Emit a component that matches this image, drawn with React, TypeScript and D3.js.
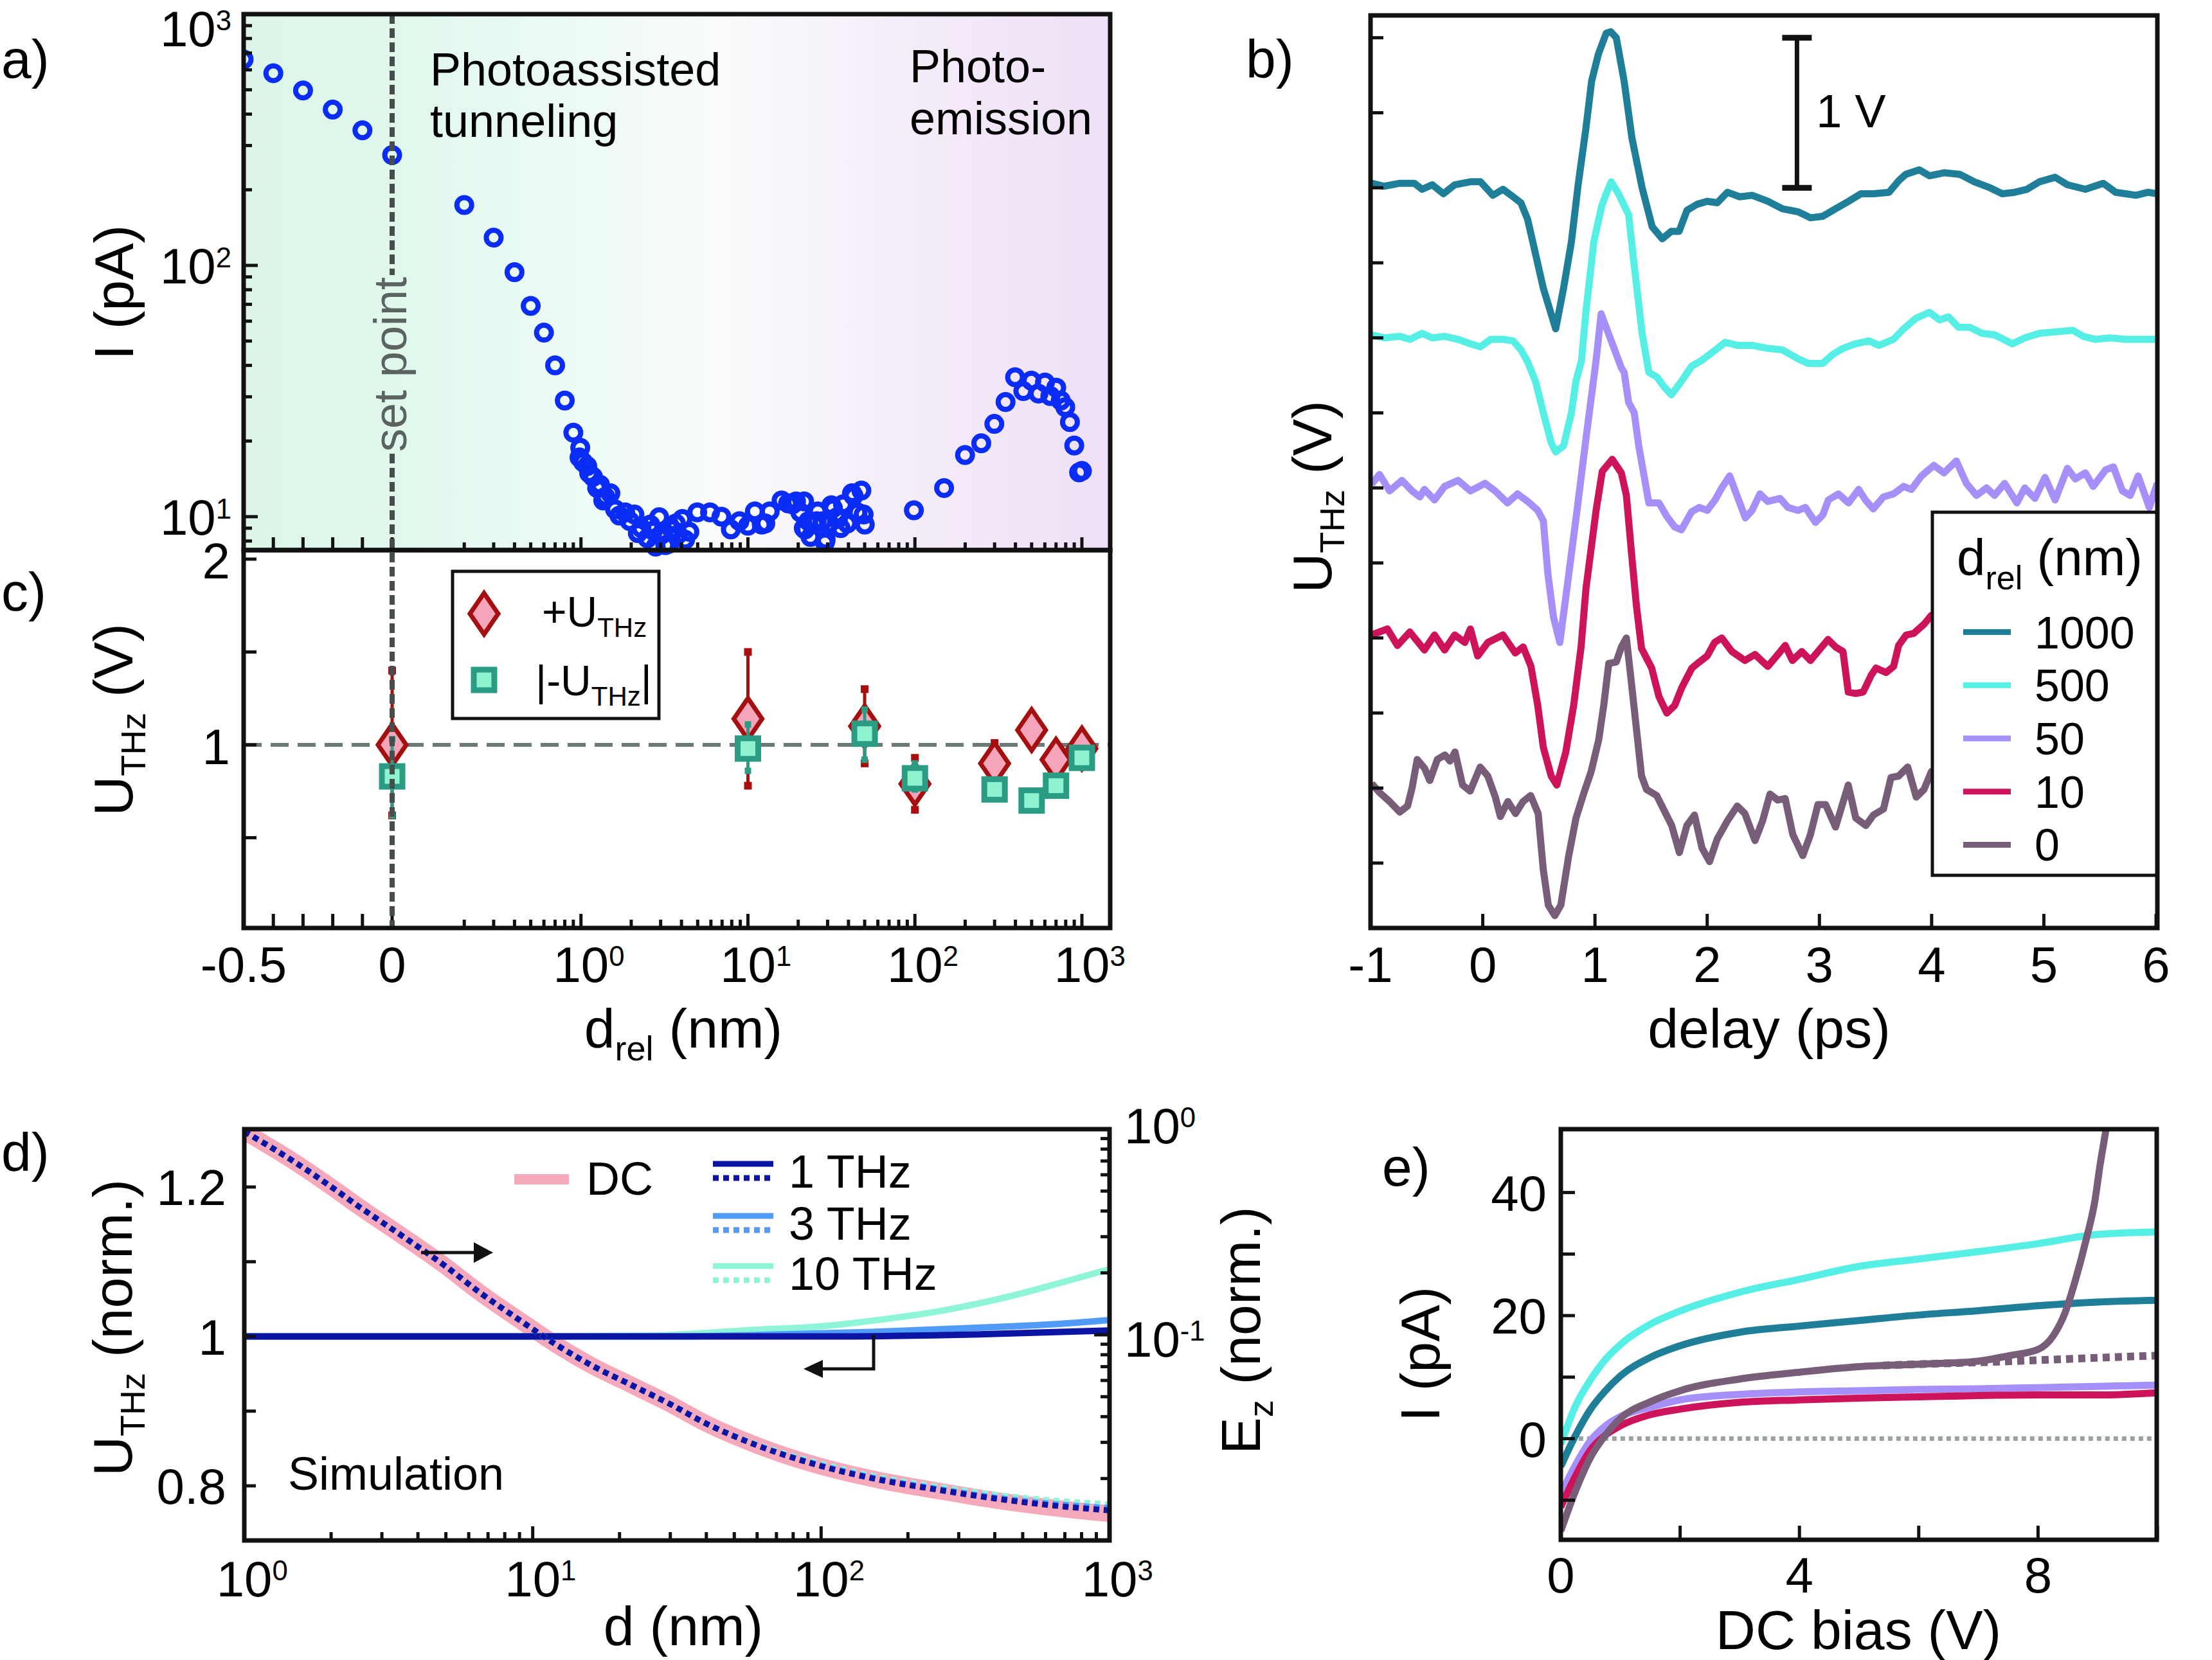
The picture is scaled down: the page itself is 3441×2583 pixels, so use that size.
import * as d3 from "d3";

const FONT = "'Liberation Sans', Arial, Helvetica, sans-serif";

// a) photocurrent vs relative tip distance  [d_rel (nm), I (pA)]
const currentA: [number, number][] = [
  [-0.5, 660], [-0.4, 582], [-0.3, 497], [-0.2, 417], [-0.1, 345], [0, 275],
  [0.2, 174], [0.3, 129], [0.4, 94], [0.5, 69], [0.6, 54], [0.7, 40], [0.8, 29], [0.9, 21.6],
  [0.99, 18.8], [0.98, 17.2], [1.03, 16.5], [1.09, 15.9], [1.12, 14.9], [1.18, 14.4], [1.25, 13.0],
  [1.3, 13.4], [1.36, 11.6], [1.4, 12.0], [1.5, 12.4], [1.6, 10.7], [1.7, 10.1], [1.84, 10.4],
  [1.96, 9.6], [2.09, 10.2], [2.19, 8.6], [2.3, 9.0], [2.5, 8.2], [2.6, 9.3], [2.7, 8.8], [2.8, 7.6],
  [2.94, 9.95], [3.05, 8.5], [3.2, 7.7], [3.36, 7.8], [3.5, 8.9], [3.7, 9.4], [3.81, 8.5], [4.05, 9.8],
  [4.2, 8.1], [4.46, 8.7], [4.97, 10.4], [5.93, 10.4], [6.94, 10.0], [7.9, 8.9], [8.9, 9.6], [10.0, 9.2],
  [11.0, 10.5], [12.1, 9.3], [12.7, 9.4], [13.5, 10.5], [15.9, 11.6], [17.4, 11.3], [18.5, 11.2],
  [19.4, 11.5], [20.6, 10.4], [21.6, 9.0], [21.7, 11.5], [22.0, 8.9], [23.0, 9.6], [23.7, 8.3],
  [25.0, 9.4], [25.8, 9.6], [26.2, 10.5], [27.9, 9.6], [28.9, 7.9], [29.2, 8.1], [30.7, 9.4],
  [31.6, 11.1], [32.3, 10.8], [34.2, 9.95], [34.6, 9.8], [35.9, 9.0], [37.1, 11.2], [39.4, 9.4],
  [42.0, 12.4], [42.9, 12.1], [45.3, 10.4], [47.8, 12.7], [49.3, 10.2], [50.1, 9.3],
  [98.6, 10.6], [149.5, 13.0], [199.6, 17.6], [249.6, 19.6], [299, 23.4], [349, 28.6], [398, 35.9],
  [446, 31.6], [498, 34.8], [549, 30.9], [601, 34.2], [647, 30.2], [702, 32.6], [747, 29.0],
  [795, 27.3], [848, 23.8], [900, 19.2], [962, 15.0], [1000, 15.2],
];

// c) THz voltage amplitudes
const distC = [0, 10, 50, 100, 300, 500, 700, 1000];
const uPos = [1.0, 1.14, 1.1, 0.79, 0.9, 1.08, 0.92, 0.98];
const uPosLo = [0.62, 0.78, 0.9, 0.65, 0.82, 1.0, 0.86, 0.9];
const uPosHi = [1.4, 1.5, 1.3, 0.93, 1.01, 1.16, 0.98, 1.06];
const uNeg = [0.83, 0.98, 1.06, 0.82, 0.76, 0.7, 0.78, 0.93];
const uNegLo = [0.62, 0.86, 0.92, 0.76, 0.73, 0.67, 0.75, 0.9];
const uNegHi = [1.03, 1.11, 1.19, 0.9, 0.79, 0.73, 0.81, 0.96];

// b) THz waveforms [delay (ps), U (V)], plotted with vertical offsets
const wave1000: [number, number][] = [
  [-0.99, 0.03], [-0.88, 0.01], [-0.74, 0.03], [-0.61, 0.03], [-0.54, -0.01], [-0.45, 0.02], [-0.35, -0.04],
  [-0.25, 0.02], [-0.11, 0.04], [-0.02, 0.04], [0.09, -0.05], [0.18, -0.01], [0.27, -0.06], [0.34, -0.1],
  [0.4, -0.21], [0.47, -0.44], [0.54, -0.67], [0.65, -0.94], [0.72, -0.67], [0.79, -0.36], [0.85, 0.02],
  [0.92, 0.4], [0.97, 0.71], [1.03, 0.89], [1.1, 1.03], [1.14, 1.04], [1.19, 1.0], [1.26, 0.71], [1.33, 0.33],
  [1.42, 0.0], [1.51, -0.26], [1.6, -0.34], [1.68, -0.29], [1.75, -0.29], [1.82, -0.15], [1.91, -0.11],
  [2.0, -0.09], [2.09, -0.1], [2.18, -0.03], [2.29, -0.06], [2.4, -0.05], [2.54, -0.09], [2.67, -0.14],
  [2.81, -0.16], [2.92, -0.2], [3.03, -0.19], [3.12, -0.15], [3.26, -0.09], [3.37, -0.04], [3.48, -0.04],
  [3.62, -0.03], [3.71, 0.05], [3.77, 0.09], [3.89, 0.12], [3.98, 0.08], [4.11, 0.1], [4.25, 0.09],
  [4.38, 0.04], [4.52, 0.0], [4.63, -0.04], [4.74, -0.03], [4.85, -0.01], [4.96, 0.04], [5.1, 0.07],
  [5.21, 0.02], [5.37, -0.01], [5.53, 0.03], [5.64, -0.03], [5.73, -0.04], [5.82, -0.05], [5.93, -0.03],
  [6.01, -0.04],
];
const wave500: [number, number][] = [
  [-0.99, 0.02], [-0.88, 0.0], [-0.74, 0.01], [-0.65, -0.01], [-0.54, 0.03], [-0.45, 0.0], [-0.34, 0.01],
  [-0.22, -0.01], [-0.11, -0.04], [-0.02, -0.06], [0.07, -0.01], [0.18, -0.01], [0.27, -0.02], [0.34, -0.08],
  [0.4, -0.16], [0.47, -0.29], [0.54, -0.5], [0.61, -0.7], [0.65, -0.76], [0.72, -0.72], [0.79, -0.5],
  [0.83, -0.29], [0.88, -0.15], [0.92, 0.18], [0.99, 0.64], [1.06, 0.88], [1.1, 0.96], [1.145, 1.04],
  [1.21, 0.96], [1.3, 0.82], [1.35, 0.48], [1.42, 0.03], [1.48, -0.23], [1.55, -0.26], [1.62, -0.33],
  [1.68, -0.38], [1.77, -0.29], [1.86, -0.19], [1.95, -0.15], [2.04, -0.1], [2.16, -0.03], [2.27, -0.05],
  [2.4, -0.05], [2.54, -0.07], [2.67, -0.08], [2.81, -0.14], [2.9, -0.17], [3.03, -0.17], [3.12, -0.11],
  [3.21, -0.07], [3.32, -0.04], [3.44, -0.02], [3.53, -0.05], [3.66, -0.01], [3.75, 0.06], [3.86, 0.13],
  [3.98, 0.17], [4.07, 0.12], [4.15, 0.14], [4.24, 0.07], [4.34, 0.07], [4.45, 0.03], [4.56, 0.02],
  [4.72, -0.04], [4.83, 0.0], [4.96, 0.03], [5.1, 0.04], [5.26, 0.05], [5.35, 0.01], [5.46, -0.01],
  [5.59, 0.0], [5.73, -0.01], [5.86, -0.01], [6.01, -0.01],
];
const wave50: [number, number][] = [
  [-0.99, 0.025], [-0.92, 0.09], [-0.83, -0.02], [-0.72, 0.05], [-0.63, -0.02], [-0.56, -0.06], [-0.52, -0.01],
  [-0.43, -0.08], [-0.34, 0.01], [-0.22, 0.05], [-0.11, -0.02], [0.02, 0.03], [0.11, -0.02], [0.22, -0.1],
  [0.31, -0.04], [0.4, -0.09], [0.49, -0.15], [0.54, -0.22], [0.58, -0.57], [0.63, -0.86], [0.687, -1.03],
  [0.764, -0.59], [0.84, -0.15], [0.92, 0.33], [1.01, 0.85], [1.055, 1.16], [1.17, 0.93], [1.235, 0.8],
  [1.26, 0.77], [1.3, 0.57], [1.35, 0.5], [1.39, 0.28], [1.44, 0.07], [1.48, -0.1], [1.57, -0.1],
  [1.64, -0.19], [1.71, -0.26], [1.77, -0.28], [1.86, -0.16], [1.93, -0.13], [2.0, -0.15], [2.07, -0.08],
  [2.13, 0.0], [2.2, 0.08], [2.27, -0.06], [2.34, -0.2], [2.4, -0.15], [2.47, -0.04], [2.54, -0.09],
  [2.65, -0.07], [2.72, -0.13], [2.81, -0.15], [2.875, -0.13], [2.965, -0.23], [3.03, -0.18], [3.08, -0.08],
  [3.17, -0.04], [3.26, -0.1], [3.35, -0.01], [3.41, -0.08], [3.48, -0.14], [3.57, -0.06], [3.66, -0.04],
  [3.75, 0.01], [3.82, -0.01], [3.91, 0.08], [4.02, 0.15], [4.11, 0.1], [4.22, 0.18], [4.31, 0.03],
  [4.4, -0.05], [4.49, 0.0], [4.56, -0.05], [4.65, 0.03], [4.76, -0.1], [4.83, 0.0], [4.92, -0.07],
  [5.01, 0.07], [5.1, -0.08], [5.21, 0.13], [5.28, 0.06], [5.37, 0.1], [5.44, 0.01], [5.55, 0.12],
  [5.62, 0.14], [5.7, -0.02], [5.77, -0.05], [5.84, 0.08], [5.94, -0.13], [6.01, 0.03],
];
const wave10: [number, number][] = [
  [-0.99, 0.02], [-0.85, 0.06], [-0.76, -0.05], [-0.65, 0.04], [-0.52, -0.08], [-0.43, 0.02], [-0.34, -0.08],
  [-0.25, 0.02], [-0.16, -0.03], [-0.11, 0.06], [-0.045, -0.12], [0.045, -0.03], [0.18, 0.02], [0.29, -0.1],
  [0.36, -0.06], [0.43, -0.19], [0.49, -0.45], [0.54, -0.73], [0.61, -0.92], [0.66, -0.98], [0.74, -0.76],
  [0.81, -0.45], [0.876, -0.06], [0.92, 0.33], [1.01, 0.85], [1.065, 1.11], [1.154, 1.19], [1.235, 1.1],
  [1.28, 0.95], [1.325, 0.57], [1.37, 0.21], [1.415, -0.07], [1.505, -0.2], [1.57, -0.39], [1.64, -0.5],
  [1.71, -0.45], [1.774, -0.33], [1.864, -0.2], [1.93, -0.16], [2.0, -0.12], [2.066, -0.03], [2.13, 0.0],
  [2.22, -0.09], [2.336, -0.15], [2.426, -0.11], [2.54, -0.19], [2.63, -0.11], [2.695, -0.05], [2.76, -0.15],
  [2.843, -0.09], [2.92, -0.15], [3.01, -0.07], [3.077, -0.01], [3.144, -0.06], [3.21, -0.09], [3.257, -0.36],
  [3.324, -0.37], [3.39, -0.36], [3.46, -0.25], [3.504, -0.2], [3.594, -0.23], [3.661, -0.19], [3.706, -0.05],
  [3.773, 0.02], [3.84, 0.03], [3.93, 0.09], [3.998, 0.15], [4.1, 0.19],
];
const wave0: [number, number][] = [
  [-0.99, 0.03], [-0.92, -0.03], [-0.83, -0.09], [-0.74, -0.16], [-0.67, -0.12], [-0.63, 0.0], [-0.584, 0.19],
  [-0.517, 0.13], [-0.472, 0.05], [-0.405, 0.19], [-0.337, 0.22], [-0.292, 0.18], [-0.247, 0.24], [-0.18, 0.02],
  [-0.112, -0.02], [-0.023, 0.14], [0.045, 0.08], [0.112, -0.06], [0.157, -0.19], [0.224, -0.09], [0.292, -0.17],
  [0.359, -0.09], [0.427, -0.05], [0.494, -0.17], [0.539, -0.54], [0.584, -0.78], [0.642, -0.85], [0.696, -0.78],
  [0.764, -0.46], [0.831, -0.2], [0.898, -0.04], [0.966, 0.11], [1.033, 0.32], [1.078, 0.55], [1.123, 0.83],
  [1.19, 0.84], [1.235, 0.94], [1.28, 1.0], [1.325, 0.7], [1.37, 0.39], [1.415, 0.08], [1.46, -0.01],
  [1.55, -0.05], [1.617, -0.15], [1.684, -0.25], [1.752, -0.43], [1.819, -0.25], [1.887, -0.18], [1.954, -0.4],
  [2.021, -0.49], [2.089, -0.34], [2.179, -0.22], [2.268, -0.12], [2.336, -0.17], [2.426, -0.35], [2.493, -0.22],
  [2.56, -0.04], [2.628, -0.08], [2.695, -0.07], [2.763, -0.31], [2.852, -0.45], [2.92, -0.31], [2.987, -0.11],
  [3.055, -0.11], [3.144, -0.26], [3.257, 0.02], [3.324, -0.2], [3.414, -0.25], [3.481, -0.18], [3.571, -0.14],
  [3.638, 0.07], [3.706, 0.08], [3.787, 0.14], [3.863, -0.06], [3.931, -0.01], [3.998, 0.11], [4.1, 0.12],
];
const waveOffsets = [5, 4, 3, 2, 1];
const waveLabels = ["1000", "500", "50", "10", "0"];
const waveColors = ["#1f7f98", "#55efe6", "#a68ff8", "#cd145a", "#775d78"];

// d) simulation
const dSim = [1, 1.5, 2, 2.5, 3.5, 5, 6.5, 9, 12, 16, 22, 30, 40, 60, 100, 160, 250, 400, 700, 1000];
const ezDC = [0.974, 0.69, 0.525, 0.42, 0.305, 0.215, 0.162, 0.118, 0.09, 0.071, 0.057, 0.046, 0.037, 0.029, 0.0229, 0.0196, 0.0175, 0.0157, 0.0142, 0.0135];
const ez1 = [0.974, 0.69, 0.525, 0.42, 0.305, 0.215, 0.162, 0.118, 0.09, 0.071, 0.057, 0.046, 0.037, 0.029, 0.023, 0.0197, 0.0177, 0.016, 0.0146, 0.014];
const ez3 = [0.974, 0.69, 0.525, 0.42, 0.305, 0.215, 0.162, 0.118, 0.09, 0.071, 0.057, 0.046, 0.037, 0.029, 0.0232, 0.0199, 0.0179, 0.0162, 0.0149, 0.0144];
const ez10 = [0.974, 0.69, 0.525, 0.42, 0.305, 0.215, 0.162, 0.118, 0.09, 0.071, 0.057, 0.046, 0.037, 0.0293, 0.0236, 0.0203, 0.0183, 0.0167, 0.0155, 0.015];
const dU10 = [1, 10, 25, 60, 100, 150, 250, 370, 500, 680, 1000];
const u10 = [1.0, 1.0, 1.001, 1.009, 1.0135, 1.021, 1.033, 1.046, 1.058, 1.072, 1.09];
const dU3 = [1, 30, 60, 150, 370, 680, 1000];
const u3 = [1.0, 1.0, 1.002, 1.006, 1.012, 1.017, 1.022];
const dU1 = [1, 100, 370, 1000];
const u1 = [1.0, 1.0, 1.003, 1.008];
const simColors = { dc: "#f6a9ba", f1: "#0b14a3", f3: "#4f9bf7", f10: "#8ef5d8" };

// e) I-V curves
const bias = [0, 0.25, 0.5, 0.75, 1, 1.5, 2, 3, 4, 5, 6, 7, 8, 9, 10];
const iv1000 = [-4.5, 0.6, 4.8, 7.8, 10.2, 13.2, 15.1, 17.3, 18.3, 19.2, 20.1, 20.8, 21.6, 22.2, 22.5];
const iv500 = [-0.9, 5.4, 9.6, 12.9, 15.3, 18.6, 20.75, 23.8, 25.9, 28, 29.2, 30.4, 31.7, 33.2, 33.6];
const iv50 = [-9.0, -4.2, -0.3, 2.1, 3.6, 5.1, 6.3, 7.2, 7.6, 7.8, 8.0, 8.1, 8.3, 8.5, 8.7];
const iv10 = [-11.1, -6.0, -1.8, 0.6, 2.1, 3.9, 4.8, 5.9, 6.3, 6.6, 6.8, 7.0, 7.1, 7.1, 7.45];
const bias0 = [0, 0.25, 0.5, 0.75, 1, 1.5, 2, 3, 4, 5, 6, 7, 7.52, 8.0, 8.26, 8.45, 8.63, 8.81, 8.95, 9.04, 9.14, 9.2];
const iv0 = [-15, -8.4, -3.0, 0.6, 3.3, 6.0, 7.8, 9.7, 10.8, 11.7, 12.1, 12.6, 13.5, 14.5, 16.8, 20.4, 25.9, 32.5, 38.5, 44.5, 50.3, 54];
const biasFit = [5.4, 6, 7, 8, 9, 10];
const ivFit = [11.9, 12.1, 12.4, 12.75, 13.15, 13.5];

const FT = 78; // tick labels
const FA = 86; // axis titles
const FL = 70; // legends

// "10" with a superscript whose top lines up with the digits
const Pow = ({ x, y, exp, anchor = "start", fs = FT }: any) => (
  <text x={x} y={y} fontSize={fs} textAnchor={anchor}>
    10<tspan fontSize={fs * 0.56} dy={-fs * 0.32}>{exp}</tspan>
  </text>
);

const isDecade = (v: number) => Math.abs(Math.log10(v) - Math.round(Math.log10(v))) < 1e-6;

export default function App() {
  // ---- a / c scales (broken x axis: linear up to 0, log above) ----
  const xLin = d3.scaleLinear().domain([-0.5, 0]).range([379, 610]);
  const xLog = d3.scaleLog().domain([0.1, 1000]).range([644, 1683]);
  const xAC = (d: number) => (d <= 0 ? xLin(d) : xLog(d));
  const yA = d3.scaleLog().domain([7.36, 1000]).range([856, 22]);
  const yC = d3.scaleLinear().domain([0, 2]).range([1448, 870]);
  const acTicks = [
    ...xLin.ticks(5).map((v) => ({ x: xLin(v), major: true })),
    ...xLog.ticks().filter((v) => v > 0.15).map((v) => ({ x: xLog(v), major: isDecade(v) })),
  ];

  // ---- b ----
  const xB = d3.scaleLinear().domain([-1, 6]).range([2132, 3354]);
  const yB = d3.scaleLinear().domain([0, 6]).range([1459.7, 58.7]);
  const waves = [wave1000, wave500, wave50, wave10, wave0];

  // ---- d ----
  const xD = d3.scaleLog().domain([1, 1000]).range([380, 1726]);
  const yDL = d3.scaleLinear().domain([0.8, 1.2]).range([2312, 1847]);
  const yDR = d3.scaleLog().domain([0.01, 1]).range([2397, 1757]);
  const lineR = (xs: number[], ys: number[]) =>
    d3.line<number>().x((_, i) => xD(xs[i])).y((v) => yDR(v)).curve(d3.curveMonotoneX)(ys) || "";
  const lineL = (xs: number[], ys: number[]) =>
    d3.line<number>().x((_, i) => xD(xs[i])).y((v) => yDL(v)).curve(d3.curveMonotoneX)(ys) || "";

  // ---- e ----
  const xE = d3.scaleLinear().domain([0, 10]).range([2428, 3356]);
  const yE = d3.scaleLinear().domain([0, 40]).range([2238.6, 1855.6]);
  const lineE = (xs: number[], ys: number[]) =>
    d3.line<number>().x((_, i) => xE(xs[i])).y((v) => yE(v)).curve(d3.curveMonotoneX)(ys) || "";

  const tick = "#111";

  return (
    <svg width={3441} height={2583} style={{ position: "absolute", left: 0, top: 0, background: "#fff" }} fontFamily={FONT}>
      <defs>
        <linearGradient id="bgA" x1="0" x2="1" y1="0" y2="0">
          <stop offset="0" stopColor="#dcf6e8" />
          <stop offset="0.2" stopColor="#e1f8ed" />
          <stop offset="0.4" stopColor="#eefbf6" />
          <stop offset="0.55" stopColor="#fafbfc" />
          <stop offset="0.75" stopColor="#f5edf9" />
          <stop offset="1" stopColor="#eee0f6" />
        </linearGradient>
        <clipPath id="clipA"><rect x={379} y={22} width={1348} height={848} /></clipPath>
        <clipPath id="clipB"><rect x={2132} y={24} width={1224} height={1420} /></clipPath>
        <clipPath id="clipD"><rect x={380} y={1757} width={1346} height={640} /></clipPath>
        <clipPath id="clipE"><rect x={2428} y={1757} width={927} height={639} /></clipPath>
      </defs>

      {/* ================= panel a ================= */}
      <rect x={379} y={22} width={1348} height={834} fill="url(#bgA)" />
      <g clipPath="url(#clipA)">
        {currentA.map(([d, i], k) => (
          <circle key={k} cx={xAC(d)} cy={yA(i)} r={11.5} fill="none" stroke="#0b2cf5" strokeWidth={8} />
        ))}
      </g>
      <text x={669} y={133} fontSize={72}>Photoassisted</text>
      <text x={669} y={213} fontSize={72}>tunneling</text>
      <text x={1415} y={128} fontSize={72}>Photo-</text>
      <text x={1415} y={209} fontSize={72}>emission</text>
      {yA.ticks().map((v) => (
        <line key={v} x1={379} x2={379 + (isDecade(v) ? 22 : 13)} y1={yA(v)} y2={yA(v)} stroke={tick} strokeWidth={5} />
      ))}
      {[1, 2, 3].map((e) => (
        <Pow key={e} x={360} y={Math.max(yA(10 ** e) + 28, 72)} exp={e} anchor="end" />
      ))}
      {acTicks.map((t, k) => (
        <line key={k} x1={t.x} x2={t.x} y1={856} y2={856 - (t.major ? 20 : 12)} stroke={tick} strokeWidth={5} />
      ))}
      <text transform="translate(207,455) rotate(-90)" fontSize={FA} textAnchor="middle">I (pA)</text>
      <text x={2} y={121} fontSize={84}>a)</text>

      {/* ================= panel c ================= */}
      <line x1={379} x2={1727} y1={yC(1)} y2={yC(1)} stroke="#6b7a78" strokeWidth={6} strokeDasharray="28 14" />
      {distC.map((d, k) => (
        <g key={"pe" + k} stroke="#a80e0e" strokeWidth={5}>
          <line x1={xAC(d)} x2={xAC(d)} y1={yC(uPosLo[k])} y2={yC(uPosHi[k])} />
          <rect x={xAC(d) - 6} y={yC(uPosHi[k]) - 6} width={12} height={12} fill="#a80e0e" stroke="none" />
          <rect x={xAC(d) - 6} y={yC(uPosLo[k]) - 6} width={12} height={12} fill="#a80e0e" stroke="none" />
        </g>
      ))}
      {distC.map((d, k) => (
        <path key={"pd" + k} transform={`translate(${xAC(d)},${yC(uPos[k])})`} d="M0,-32L22,0L0,32L-22,0Z"
          fill="#f5a4b9" stroke="#a3100f" strokeWidth={7} strokeLinejoin="miter" />
      ))}
      {distC.map((d, k) => (
        <g key={"ne" + k} stroke="#2a9c84" strokeWidth={5}>
          <line x1={xAC(d)} x2={xAC(d)} y1={yC(uNegLo[k])} y2={yC(uNegHi[k])} />
          <rect x={xAC(d) - 5} y={yC(uNegHi[k]) - 5} width={10} height={10} fill="#2a9c84" stroke="none" />
          <rect x={xAC(d) - 5} y={yC(uNegLo[k]) - 5} width={10} height={10} fill="#2a9c84" stroke="none" />
        </g>
      ))}
      {distC.map((d, k) => (
        <rect key={"ns" + k} x={xAC(d) - 16} y={yC(uNeg[k]) - 16} width={32} height={32}
          fill="#8ef2cf" stroke="#2a9c84" strokeWidth={9} />
      ))}
      {/* legend c */}
      <rect x={704} y={889} width={321} height={229} fill="#fff" stroke="#111" strokeWidth={5} />
      <path transform="translate(753,955)" d="M0,-32L22,0L0,32L-22,0Z" fill="#f5a4b9" stroke="#a3100f" strokeWidth={7} />
      <rect x={737} y={1042} width={32} height={32} fill="#8ef2cf" stroke="#2a9c84" strokeWidth={9} />
      <text x={843} y={975} fontSize={66}>
        +U<tspan fontSize={42} dy={16}>THz</tspan>
      </text>
      <text x={833} y={1082} fontSize={66}>
        |-U<tspan fontSize={42} dy={16}>THz</tspan><tspan dy={-16}>|</tspan>
      </text>
      {[0.5, 1, 1.5, 2].map((v) => (
        <line key={v} x1={379} x2={399} y1={yC(v)} y2={yC(v)} stroke={tick} strokeWidth={5} />
      ))}
      {[1, 2].map((v) => (
        <text key={v} x={358} y={yC(v) + 30} fontSize={FT} textAnchor="end">{v}</text>
      ))}
      {acTicks.map((t, k) => (
        <line key={k} x1={t.x} x2={t.x} y1={1444} y2={1444 - (t.major ? 22 : 13)} stroke={tick} strokeWidth={5} />
      ))}
      <text x={xLin(-0.5)} y={1528} fontSize={FT} textAnchor="middle">-0.5</text>
      <text x={xLin(0)} y={1528} fontSize={FT} textAnchor="middle">0</text>
      {[0, 1, 2, 3].map((e) => (
        <Pow key={e} x={xLog(10 ** e) - 0.556 * FT} y={1528} exp={e} />
      ))}
      <text x={1063} y={1630} fontSize={FA} textAnchor="middle">
        d<tspan fontSize={54} dy={20}>rel</tspan><tspan dy={-20}> (nm)</tspan>
      </text>
      <text transform="translate(206,1120) rotate(-90)" fontSize={FA} textAnchor="middle">
        U<tspan fontSize={54} dy={20}>THz</tspan><tspan dy={-20}> (V)</tspan>
      </text>
      <text x={2} y={950} fontSize={84}>c)</text>

      {/* set point: dotted line, interrupted where the label sits */}
      <line x1={xAC(0)} x2={xAC(0)} y1={22} y2={428} stroke="#474d4d" strokeWidth={8} strokeDasharray="15 7" />
      <line x1={xAC(0)} x2={xAC(0)} y1={706} y2={1444} stroke="#474d4d" strokeWidth={8} strokeDasharray="15 7" />
      <text transform="translate(632,567) rotate(-90)" fontSize={72} fill="#5a6262" textAnchor="middle">set point</text>

      <rect x={379} y={22} width={1348} height={834} fill="none" stroke={tick} strokeWidth={7} />
      <rect x={379} y={856} width={1348} height={588} fill="none" stroke={tick} strokeWidth={7} />

      {/* ================= panel b ================= */}
      <g clipPath="url(#clipB)">
        {waves.map((w, k) => (
          <path key={k}
            d={d3.line<[number, number]>().x((p) => xB(p[0])).y((p) => yB(p[1] + waveOffsets[k]))(w) || ""}
            fill="none" stroke={waveColors[k]} strokeWidth={11} strokeLinejoin="round" />
        ))}
      </g>
      {/* scale bar */}
      <g stroke="#111">
        <line x1={xB(2.8)} x2={xB(2.8)} y1={yB(5)} y2={yB(6)} strokeWidth={7} />
        <line x1={xB(2.8) - 23} x2={xB(2.8) + 23} y1={yB(6)} y2={yB(6)} strokeWidth={9} />
        <line x1={xB(2.8) - 23} x2={xB(2.8) + 23} y1={yB(5)} y2={yB(5)} strokeWidth={9} />
      </g>
      <text x={xB(2.8) + 30} y={198} fontSize={72}>1 V</text>
      {/* legend b */}
      <rect x={3006} y={797} width={350} height={565} fill="#fff" stroke="#111" strokeWidth={5} />
      <text x={3044} y={895} fontSize={80}>
        d<tspan fontSize={52} dy={22}>rel</tspan><tspan dy={-22}> (nm)</tspan>
      </text>
      {waveLabels.map((l, k) => (
        <g key={l}>
          <line x1={3054} x2={3128} y1={983.6 + k * 82.7} y2={983.6 + k * 82.7} stroke={waveColors[k]} strokeWidth={9} />
          <text x={3165} y={983.6 + k * 82.7 + 25} fontSize={FL}>{l}</text>
        </g>
      ))}
      {yB.ticks(12).filter((v) => v > 0).map((v) => (
        <line key={v} x1={2132} x2={2152} y1={yB(v)} y2={yB(v)} stroke={tick} strokeWidth={5} />
      ))}
      {xB.ticks(7).map((v) => (
        <g key={v}>
          <line x1={xB(v)} x2={xB(v)} y1={1444} y2={1422} stroke={tick} strokeWidth={5} />
          <text x={xB(v)} y={1528} fontSize={FT} textAnchor="middle">{v < 0 ? "-" + Math.abs(v) : v}</text>
        </g>
      ))}
      <rect x={2132} y={24} width={1224} height={1420} fill="none" stroke={tick} strokeWidth={7} />
      <text x={2752} y={1630} fontSize={FA} textAnchor="middle">delay (ps)</text>
      <text transform="translate(2071,773) rotate(-90)" fontSize={FA} textAnchor="middle">
        U<tspan fontSize={54} dy={20}>THz</tspan><tspan dy={-20}> (V)</tspan>
      </text>
      <text x={1938} y={121} fontSize={84}>b)</text>

      {/* ================= panel d ================= */}
      <g clipPath="url(#clipD)">
        <path d={lineR(dSim, ezDC)} fill="none" stroke={simColors.dc} strokeWidth={26} />
        <path d={lineL(dU10, u10)} fill="none" stroke={simColors.f10} strokeWidth={10} />
        <path d={lineL(dU3, u3)} fill="none" stroke={simColors.f3} strokeWidth={10} />
        <path d={lineL(dU1, u1)} fill="none" stroke={simColors.f1} strokeWidth={10} />
        <path d={lineR(dSim, ez10)} fill="none" stroke={simColors.f10} strokeWidth={9} strokeDasharray="9 7" />
        <path d={lineR(dSim, ez3)} fill="none" stroke={simColors.f3} strokeWidth={9} strokeDasharray="9 7" />
        <path d={lineR(dSim, ez1)} fill="none" stroke={simColors.f1} strokeWidth={9} strokeDasharray="9 7" />
      </g>
      {/* legend d */}
      <line x1={800} x2={885} y1={1835} y2={1835} stroke={simColors.dc} strokeWidth={16} />
      <text x={912} y={1859} fontSize={72}>DC</text>
      {[
        { c: simColors.f1, y: 1811, t: "1 THz" },
        { c: simColors.f3, y: 1892, t: "3 THz" },
        { c: simColors.f10, y: 1970, t: "10 THz" },
      ].map((e) => (
        <g key={e.t}>
          <line x1={1109} x2={1203} y1={e.y} y2={e.y} stroke={e.c} strokeWidth={9} />
          <line x1={1109} x2={1203} y1={e.y + 22} y2={e.y + 22} stroke={e.c} strokeWidth={9} strokeDasharray="9 7" />
          <text x={1227} y={e.y + 37} fontSize={72}>{e.t}</text>
        </g>
      ))}
      {/* arrows */}
      <g stroke="#111" strokeWidth={5} fill="none">
        <line x1={655} x2={745} y1={1949} y2={1949} />
        <polyline points="1359,2077 1359,2130 1272,2130" />
      </g>
      <path d="M767,1949L737,1933L737,1965Z" fill="#111" />
      <path d="M1250,2130L1280,2116L1280,2144Z" fill="#111" />
      <text x={448} y={2318} fontSize={72}>Simulation</text>
      {xD.ticks().map((v) => (
        <line key={v} x1={xD(v)} x2={xD(v)} y1={2397} y2={2397 - (isDecade(v) ? 22 : 13)} stroke={tick} strokeWidth={5} />
      ))}
      {[0, 1, 2, 3].map((e) => (
        <Pow key={e} x={xD(10 ** e) - 0.556 * FT} y={2484} exp={e} />
      ))}
      {yDL.ticks(4).map((v) => (
        <line key={v} x1={380} x2={398} y1={yDL(v)} y2={yDL(v)} stroke={tick} strokeWidth={5} />
      ))}
      {[0.8, 1, 1.2].map((v) => (
        <text key={v} x={352} y={yDL(v) + 28} fontSize={FT} textAnchor="end">{v}</text>
      ))}
      {yDR.ticks().map((v) => (
        <line key={v} x1={1726} x2={1726 - (isDecade(v) ? 24 : 14)} y1={yDR(v)} y2={yDR(v)} stroke={tick} strokeWidth={5} />
      ))}
      <Pow x={1749} y={yDR(1) + 22} exp={0} />
      <Pow x={1749} y={yDR(0.1) + 34} exp={"-1"} />
      <rect x={380} y={1757} width={1346} height={640} fill="none" stroke={tick} strokeWidth={7} />
      <text x={1063} y={2560} fontSize={FA} textAnchor="middle">d (nm)</text>
      <text transform="translate(205,2066) rotate(-90)" fontSize={FA} textAnchor="middle">
        U<tspan fontSize={54} dy={20}>THz</tspan><tspan dy={-20}> (norm.)</tspan>
      </text>
      <text transform="translate(1960,2070) rotate(-90)" fontSize={FA} textAnchor="middle">
        E<tspan fontSize={54} dy={20}>z</tspan><tspan dy={-20}> (norm.)</tspan>
      </text>
      <text x={2} y={1822} fontSize={84}>d)</text>

      {/* ================= panel e ================= */}
      <line x1={xE(0.3)} x2={xE(10)} y1={yE(0)} y2={yE(0)} stroke="#9aa39f" strokeWidth={7} strokeDasharray="7 6" />
      <g clipPath="url(#clipE)" fill="none" strokeWidth={11}>
        <path d={lineE(bias, iv500)} stroke={waveColors[1]} />
        <path d={lineE(bias, iv1000)} stroke={waveColors[0]} />
        <path d={lineE(bias, iv50)} stroke={waveColors[2]} />
        <path d={lineE(bias, iv10)} stroke={waveColors[3]} />
        <path d={lineE(biasFit, ivFit)} stroke={waveColors[4]} strokeWidth={12} strokeDasharray="11 8" />
        <path d={lineE(bias0, iv0)} stroke={waveColors[4]} />
      </g>
      {xE.ticks(5).map((v) => (
        <line key={v} x1={xE(v)} x2={xE(v)} y1={2396} y2={2374} stroke={tick} strokeWidth={5} />
      ))}
      {[0, 4, 8].map((v) => (
        <text key={v} x={xE(v)} y={2478} fontSize={FT} textAnchor="middle">{v}</text>
      ))}
      {d3.range(-10, 41, 10).map((v) => (
        <line key={v} x1={2428} x2={2450} y1={yE(v)} y2={yE(v)} stroke={tick} strokeWidth={5} />
      ))}
      {[0, 20, 40].map((v) => (
        <text key={v} x={2406} y={yE(v) + 28} fontSize={FT} textAnchor="end">{v}</text>
      ))}
      <rect x={2428} y={1757} width={927} height={639} fill="none" stroke={tick} strokeWidth={7} />
      <text x={2891} y={2566} fontSize={FA} textAnchor="middle">DC bias (V)</text>
      <text transform="translate(2239,2107) rotate(-90)" fontSize={FA} textAnchor="middle">I (pA)</text>
      <text x={2150} y={1845} fontSize={84}>e)</text>
    </svg>
  );
}
